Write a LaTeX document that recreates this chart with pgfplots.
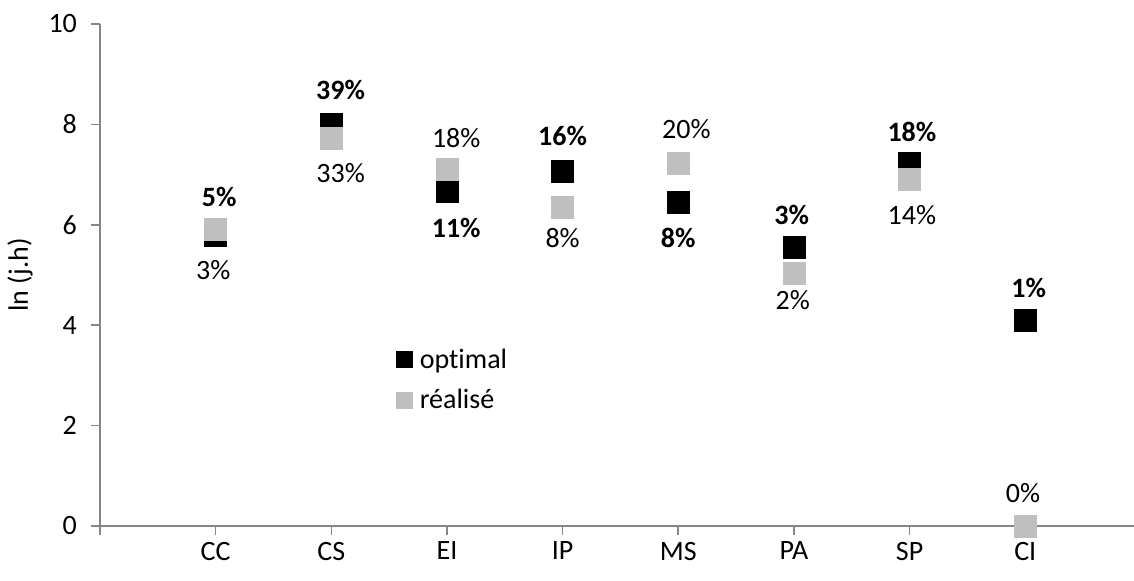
\documentclass[border=0pt]{standalone}
\usepackage{pgfplots}
\pgfplotsset{compat=1.18}
\usepackage{fontspec}
\setmainfont[Ligatures={TeX,NoCommon}]{Carlito}
\definecolor{axisgrey}{RGB}{134,134,134}
\definecolor{realgrey}{RGB}{191,191,191}
\newcommand{\lbl}{\fontsize{14}{16}\selectfont}

\begin{document}
\begin{tikzpicture}
\begin{axis}[
    scale only axis,
    width=523.4pt, height=251pt,
    xmin=0, xmax=9.05,
    ymin=0, ymax=10,
    clip=false,
    axis x line*=bottom, axis y line*=left,
    axis line style={draw=axisgrey, line width=0.8pt, -},
    every tick/.style={draw=axisgrey, line width=0.8pt},
    tick align=outside,
    major tick length=4.5pt,
    xtick={0,1,2,3,4,5,6,7,8},
    xticklabels={,CC,CS,EI,IP,MS,PA,SP,CI},
    ytick={0,2,4,6,8,10},
    /pgf/number format/assume math mode=true,
    font=\lbl,
    ticklabel style={font=\lbl},
    yticklabel style={xshift=-3.5pt},
    ylabel={ln (j.h)},
    every axis y label/.style={at={(axis description cs:0,0.5)}, xshift=-40pt, rotate=90, anchor=center},
    legend style={at={(axis cs:2.56,3.58)}, anchor=north west, draw=none, fill=none,
        inner sep=0pt, row sep=7pt, font=\lbl,
        nodes={inner sep=1pt}},
    legend cell align=left,
    legend image code/.code={\path (0cm,0cm) (0.36cm,0cm);
        \draw[#1] plot coordinates {(0.14cm,0cm)};},
    legend image post style={mark size=4pt},
]
% optimal
\addplot[only marks, mark=square*, mark size=5.5pt, draw=black, fill=black] coordinates {
    (1,5.78) (2,7.99) (3,6.67) (4,7.07) (5,6.45) (6,5.54) (7,7.23) (8,4.09)
};
\addlegendentry{optimal}
% réalisé
\addplot[only marks, mark=square*, mark size=5.5pt, draw=realgrey, fill=realgrey] coordinates {
    (1,5.90) (2,7.72) (3,7.11) (4,6.35) (5,7.23) (6,5.04) (7,6.90) (8,0)
};
\addlegendentry{réalisé}

% data labels (bold = optimal, regular = réalisé)
\node[font=\lbl\bfseries] at (axis cs:1.03,6.55) {5\%};
\node at (axis cs:0.98,5.10) {3\%};
\node[font=\lbl\bfseries] at (axis cs:2.08,8.69) {39\%};
\node at (axis cs:2.08,7.03) {33\%};
\node at (axis cs:3.08,7.73) {18\%};
\node[font=\lbl\bfseries] at (axis cs:3.08,5.94) {11\%};
\node[font=\lbl\bfseries] at (axis cs:4.0,7.77) {16\%};
\node at (axis cs:4.0,5.74) {8\%};
\node at (axis cs:5.07,7.91) {20\%};
\node[font=\lbl\bfseries] at (axis cs:5.0,5.74) {8\%};
\node[font=\lbl\bfseries] at (axis cs:5.98,6.19) {3\%};
\node at (axis cs:5.99,4.50) {2\%};
\node[font=\lbl\bfseries] at (axis cs:7.02,7.85) {18\%};
\node at (axis cs:7.02,6.19) {14\%};
\node[font=\lbl\bfseries] at (axis cs:8.03,4.74) {1\%};
\node at (axis cs:7.98,0.66) {0\%};

% picture frame corners (the axis line runs past the right edge)
\coordinate (bl) at (axis cs:0,0);
\coordinate (tr) at (axis cs:8.94,10);
\end{axis}
\pgfresetboundingbox
\useasboundingbox ([xshift=-50pt,yshift=-27.5pt]bl) rectangle ([yshift=12pt]tr);
\end{tikzpicture}
\end{document}
